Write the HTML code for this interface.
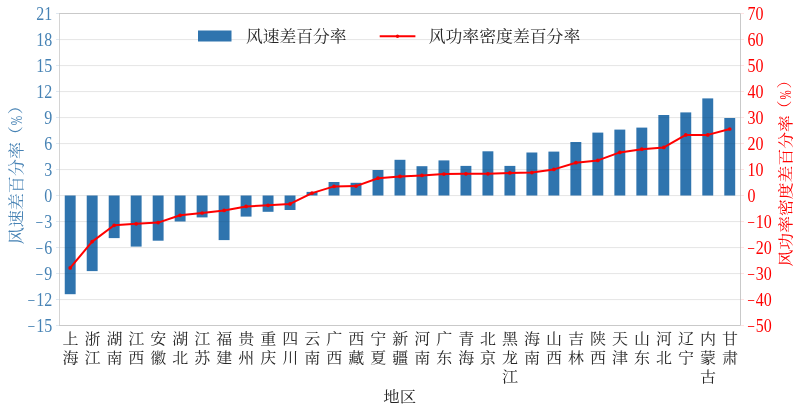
<!DOCTYPE html><html><head><meta charset="utf-8"><title>chart</title><style>html,body{margin:0;padding:0;background:#fff}svg{display:block}text{font-family:"Liberation Serif","Noto Serif CJK SC",serif}</style></head><body>
<svg width="800" height="411" viewBox="0 0 800 411">
<rect width="800" height="411" fill="#fff"/>
<line x1="56.0" x2="59.5" y1="13.50" y2="13.50" stroke="#dfe8f1" stroke-width="1"/>
<line x1="740.5" x2="744.0" y1="13.50" y2="13.50" stroke="#ffe3e3" stroke-width="1"/>
<line x1="59.5" x2="740.5" y1="39.62" y2="39.62" stroke="#000" stroke-opacity="0.05" stroke-width="1"/>
<line x1="56.0" x2="59.5" y1="39.50" y2="39.50" stroke="#dfe8f1" stroke-width="1"/>
<line x1="740.5" x2="744.0" y1="39.50" y2="39.50" stroke="#ffe3e3" stroke-width="1"/>
<line x1="59.5" x2="740.5" y1="65.62" y2="65.62" stroke="#000" stroke-opacity="0.05" stroke-width="1"/>
<line x1="56.0" x2="59.5" y1="65.50" y2="65.50" stroke="#dfe8f1" stroke-width="1"/>
<line x1="740.5" x2="744.0" y1="65.50" y2="65.50" stroke="#ffe3e3" stroke-width="1"/>
<line x1="59.5" x2="740.5" y1="91.62" y2="91.62" stroke="#000" stroke-opacity="0.05" stroke-width="1"/>
<line x1="56.0" x2="59.5" y1="91.50" y2="91.50" stroke="#dfe8f1" stroke-width="1"/>
<line x1="740.5" x2="744.0" y1="91.50" y2="91.50" stroke="#ffe3e3" stroke-width="1"/>
<line x1="59.5" x2="740.5" y1="117.62" y2="117.62" stroke="#000" stroke-opacity="0.05" stroke-width="1"/>
<line x1="56.0" x2="59.5" y1="117.50" y2="117.50" stroke="#dfe8f1" stroke-width="1"/>
<line x1="740.5" x2="744.0" y1="117.50" y2="117.50" stroke="#ffe3e3" stroke-width="1"/>
<line x1="59.5" x2="740.5" y1="143.62" y2="143.62" stroke="#000" stroke-opacity="0.05" stroke-width="1"/>
<line x1="56.0" x2="59.5" y1="143.50" y2="143.50" stroke="#dfe8f1" stroke-width="1"/>
<line x1="740.5" x2="744.0" y1="143.50" y2="143.50" stroke="#ffe3e3" stroke-width="1"/>
<line x1="59.5" x2="740.5" y1="169.62" y2="169.62" stroke="#000" stroke-opacity="0.05" stroke-width="1"/>
<line x1="56.0" x2="59.5" y1="169.50" y2="169.50" stroke="#dfe8f1" stroke-width="1"/>
<line x1="740.5" x2="744.0" y1="169.50" y2="169.50" stroke="#ffe3e3" stroke-width="1"/>
<line x1="59.5" x2="740.5" y1="195.62" y2="195.62" stroke="#000" stroke-opacity="0.05" stroke-width="1"/>
<line x1="56.0" x2="59.5" y1="195.50" y2="195.50" stroke="#dfe8f1" stroke-width="1"/>
<line x1="740.5" x2="744.0" y1="195.50" y2="195.50" stroke="#ffe3e3" stroke-width="1"/>
<line x1="59.5" x2="740.5" y1="221.62" y2="221.62" stroke="#000" stroke-opacity="0.05" stroke-width="1"/>
<line x1="56.0" x2="59.5" y1="221.50" y2="221.50" stroke="#dfe8f1" stroke-width="1"/>
<line x1="740.5" x2="744.0" y1="221.50" y2="221.50" stroke="#ffe3e3" stroke-width="1"/>
<line x1="59.5" x2="740.5" y1="247.62" y2="247.62" stroke="#000" stroke-opacity="0.05" stroke-width="1"/>
<line x1="56.0" x2="59.5" y1="247.50" y2="247.50" stroke="#dfe8f1" stroke-width="1"/>
<line x1="740.5" x2="744.0" y1="247.50" y2="247.50" stroke="#ffe3e3" stroke-width="1"/>
<line x1="59.5" x2="740.5" y1="273.62" y2="273.62" stroke="#000" stroke-opacity="0.05" stroke-width="1"/>
<line x1="56.0" x2="59.5" y1="273.50" y2="273.50" stroke="#dfe8f1" stroke-width="1"/>
<line x1="740.5" x2="744.0" y1="273.50" y2="273.50" stroke="#ffe3e3" stroke-width="1"/>
<line x1="59.5" x2="740.5" y1="299.62" y2="299.62" stroke="#000" stroke-opacity="0.05" stroke-width="1"/>
<line x1="56.0" x2="59.5" y1="299.50" y2="299.50" stroke="#dfe8f1" stroke-width="1"/>
<line x1="740.5" x2="744.0" y1="299.50" y2="299.50" stroke="#ffe3e3" stroke-width="1"/>
<line x1="56.0" x2="59.5" y1="325.50" y2="325.50" stroke="#dfe8f1" stroke-width="1"/>
<line x1="740.5" x2="744.0" y1="325.50" y2="325.50" stroke="#ffe3e3" stroke-width="1"/>
<path d="M59.0 13.5H740.5V325.5H59.0" fill="none" stroke="#c9c9c9" stroke-width="1"/>
<line x1="59.5" x2="59.5" y1="14.0" y2="325.0" stroke="#d4d4d4" stroke-width="1"/>
<rect x="64.75" y="195.50" width="10.90" height="98.70" fill="#2f74ae"/>
<rect x="86.73" y="195.50" width="10.90" height="75.60" fill="#2f74ae"/>
<rect x="108.72" y="195.50" width="10.90" height="42.60" fill="#2f74ae"/>
<rect x="130.71" y="195.50" width="10.90" height="51.10" fill="#2f74ae"/>
<rect x="152.69" y="195.50" width="10.90" height="45.20" fill="#2f74ae"/>
<rect x="174.68" y="195.50" width="10.90" height="26.00" fill="#2f74ae"/>
<rect x="196.66" y="195.50" width="10.90" height="21.90" fill="#2f74ae"/>
<rect x="218.64" y="195.50" width="10.90" height="44.60" fill="#2f74ae"/>
<rect x="240.63" y="195.50" width="10.90" height="21.10" fill="#2f74ae"/>
<rect x="262.62" y="195.50" width="10.90" height="16.30" fill="#2f74ae"/>
<rect x="284.60" y="195.50" width="10.90" height="14.50" fill="#2f74ae"/>
<rect x="306.58" y="191.90" width="10.90" height="3.60" fill="#2f74ae"/>
<rect x="328.57" y="182.00" width="10.90" height="13.50" fill="#2f74ae"/>
<rect x="350.56" y="182.80" width="10.90" height="12.70" fill="#2f74ae"/>
<rect x="372.54" y="170.00" width="10.90" height="25.50" fill="#2f74ae"/>
<rect x="394.52" y="159.80" width="10.90" height="35.70" fill="#2f74ae"/>
<rect x="416.51" y="166.20" width="10.90" height="29.30" fill="#2f74ae"/>
<rect x="438.50" y="160.40" width="10.90" height="35.10" fill="#2f74ae"/>
<rect x="460.48" y="165.90" width="10.90" height="29.60" fill="#2f74ae"/>
<rect x="482.46" y="151.30" width="10.90" height="44.20" fill="#2f74ae"/>
<rect x="504.45" y="165.90" width="10.90" height="29.60" fill="#2f74ae"/>
<rect x="526.43" y="152.50" width="10.90" height="43.00" fill="#2f74ae"/>
<rect x="548.42" y="151.60" width="10.90" height="43.90" fill="#2f74ae"/>
<rect x="570.40" y="142.00" width="10.90" height="53.50" fill="#2f74ae"/>
<rect x="592.39" y="132.60" width="10.90" height="62.90" fill="#2f74ae"/>
<rect x="614.38" y="129.60" width="10.90" height="65.90" fill="#2f74ae"/>
<rect x="636.36" y="127.60" width="10.90" height="67.90" fill="#2f74ae"/>
<rect x="658.35" y="115.00" width="10.90" height="80.50" fill="#2f74ae"/>
<rect x="680.33" y="112.40" width="10.90" height="83.10" fill="#2f74ae"/>
<rect x="702.31" y="98.40" width="10.90" height="97.10" fill="#2f74ae"/>
<rect x="724.30" y="118.00" width="10.90" height="77.50" fill="#2f74ae"/>
<line x1="59.5" x2="740.5" y1="39.62" y2="39.62" stroke="#000" stroke-opacity="0.058" stroke-width="1"/>
<line x1="59.5" x2="740.5" y1="65.62" y2="65.62" stroke="#000" stroke-opacity="0.058" stroke-width="1"/>
<line x1="59.5" x2="740.5" y1="91.62" y2="91.62" stroke="#000" stroke-opacity="0.058" stroke-width="1"/>
<line x1="59.5" x2="740.5" y1="117.62" y2="117.62" stroke="#000" stroke-opacity="0.058" stroke-width="1"/>
<line x1="59.5" x2="740.5" y1="143.62" y2="143.62" stroke="#000" stroke-opacity="0.058" stroke-width="1"/>
<line x1="59.5" x2="740.5" y1="169.62" y2="169.62" stroke="#000" stroke-opacity="0.058" stroke-width="1"/>
<line x1="59.5" x2="740.5" y1="195.62" y2="195.62" stroke="#000" stroke-opacity="0.058" stroke-width="1"/>
<line x1="59.5" x2="740.5" y1="221.62" y2="221.62" stroke="#000" stroke-opacity="0.058" stroke-width="1"/>
<line x1="59.5" x2="740.5" y1="247.62" y2="247.62" stroke="#000" stroke-opacity="0.058" stroke-width="1"/>
<line x1="59.5" x2="740.5" y1="273.62" y2="273.62" stroke="#000" stroke-opacity="0.058" stroke-width="1"/>
<line x1="59.5" x2="740.5" y1="299.62" y2="299.62" stroke="#000" stroke-opacity="0.058" stroke-width="1"/>
<polyline points="70.20,267.90 92.19,241.60 114.17,225.30 136.16,223.80 158.14,222.60 180.12,215.30 202.11,213.00 224.09,210.40 246.08,206.40 268.06,205.30 290.05,203.90 312.03,193.10 334.02,186.40 356.00,186.10 377.99,178.20 399.97,176.40 421.96,175.40 443.94,174.10 465.93,173.80 487.91,173.80 509.90,172.90 531.88,172.60 553.87,169.40 575.86,162.70 597.84,160.40 619.83,152.40 641.81,149.20 663.80,147.40 685.78,134.90 707.76,134.90 729.75,129.00" fill="none" stroke="#ff0000" stroke-width="2" stroke-linejoin="round" stroke-linecap="round"/>
<circle cx="70.20" cy="267.90" r="1.85" fill="#f40000"/>
<circle cx="92.19" cy="241.60" r="1.85" fill="#f40000"/>
<circle cx="114.17" cy="225.30" r="1.85" fill="#f40000"/>
<circle cx="136.16" cy="223.80" r="1.85" fill="#f40000"/>
<circle cx="158.14" cy="222.60" r="1.85" fill="#f40000"/>
<circle cx="180.12" cy="215.30" r="1.85" fill="#f40000"/>
<circle cx="202.11" cy="213.00" r="1.85" fill="#f40000"/>
<circle cx="224.09" cy="210.40" r="1.85" fill="#f40000"/>
<circle cx="246.08" cy="206.40" r="1.85" fill="#f40000"/>
<circle cx="268.06" cy="205.30" r="1.85" fill="#f40000"/>
<circle cx="290.05" cy="203.90" r="1.85" fill="#f40000"/>
<circle cx="312.03" cy="193.10" r="1.85" fill="#f40000"/>
<circle cx="334.02" cy="186.40" r="1.85" fill="#f40000"/>
<circle cx="356.00" cy="186.10" r="1.85" fill="#f40000"/>
<circle cx="377.99" cy="178.20" r="1.85" fill="#f40000"/>
<circle cx="399.97" cy="176.40" r="1.85" fill="#f40000"/>
<circle cx="421.96" cy="175.40" r="1.85" fill="#f40000"/>
<circle cx="443.94" cy="174.10" r="1.85" fill="#f40000"/>
<circle cx="465.93" cy="173.80" r="1.85" fill="#f40000"/>
<circle cx="487.91" cy="173.80" r="1.85" fill="#f40000"/>
<circle cx="509.90" cy="172.90" r="1.85" fill="#f40000"/>
<circle cx="531.88" cy="172.60" r="1.85" fill="#f40000"/>
<circle cx="553.87" cy="169.40" r="1.85" fill="#f40000"/>
<circle cx="575.86" cy="162.70" r="1.85" fill="#f40000"/>
<circle cx="597.84" cy="160.40" r="1.85" fill="#f40000"/>
<circle cx="619.83" cy="152.40" r="1.85" fill="#f40000"/>
<circle cx="641.81" cy="149.20" r="1.85" fill="#f40000"/>
<circle cx="663.80" cy="147.40" r="1.85" fill="#f40000"/>
<circle cx="685.78" cy="134.90" r="1.85" fill="#f40000"/>
<circle cx="707.76" cy="134.90" r="1.85" fill="#f40000"/>
<circle cx="729.75" cy="129.00" r="1.85" fill="#f40000"/>
<text transform="translate(36.19,20.05) scale(0.915,1.08)" font-size="17.5" fill="#4682b4">21</text>
<text transform="translate(36.19,46.05) scale(0.915,1.08)" font-size="17.5" fill="#4682b4">18</text>
<text transform="translate(36.19,72.05) scale(0.915,1.08)" font-size="17.5" fill="#4682b4">15</text>
<text transform="translate(36.19,98.05) scale(0.915,1.08)" font-size="17.5" fill="#4682b4">12</text>
<text transform="translate(44.19,124.05) scale(0.915,1.08)" font-size="17.5" fill="#4682b4">9</text>
<text transform="translate(44.19,150.05) scale(0.915,1.08)" font-size="17.5" fill="#4682b4">6</text>
<text transform="translate(44.19,176.05) scale(0.915,1.08)" font-size="17.5" fill="#4682b4">3</text>
<text transform="translate(44.19,202.05) scale(0.915,1.08)" font-size="17.5" fill="#4682b4">0</text>
<text transform="translate(44.19,228.05) scale(0.915,1.08)" font-size="17.5" fill="#4682b4">3</text>
<text transform="translate(35.59,228.05) scale(0.78,1)" font-size="17.5" fill="#4682b4">−</text>
<text transform="translate(44.19,254.05) scale(0.915,1.08)" font-size="17.5" fill="#4682b4">6</text>
<text transform="translate(35.59,254.05) scale(0.78,1)" font-size="17.5" fill="#4682b4">−</text>
<text transform="translate(44.19,280.05) scale(0.915,1.08)" font-size="17.5" fill="#4682b4">9</text>
<text transform="translate(35.59,280.05) scale(0.78,1)" font-size="17.5" fill="#4682b4">−</text>
<text transform="translate(36.19,306.05) scale(0.915,1.08)" font-size="17.5" fill="#4682b4">12</text>
<text transform="translate(27.59,306.05) scale(0.78,1)" font-size="17.5" fill="#4682b4">−</text>
<text transform="translate(36.19,332.05) scale(0.915,1.08)" font-size="17.5" fill="#4682b4">15</text>
<text transform="translate(27.59,332.05) scale(0.78,1)" font-size="17.5" fill="#4682b4">−</text>
<text transform="translate(747.60,20.05) scale(0.915,1.08)" font-size="17.5" fill="#ff0000">70</text>
<text transform="translate(747.60,46.05) scale(0.915,1.08)" font-size="17.5" fill="#ff0000">60</text>
<text transform="translate(747.60,72.05) scale(0.915,1.08)" font-size="17.5" fill="#ff0000">50</text>
<text transform="translate(747.60,98.05) scale(0.915,1.08)" font-size="17.5" fill="#ff0000">40</text>
<text transform="translate(747.60,124.05) scale(0.915,1.08)" font-size="17.5" fill="#ff0000">30</text>
<text transform="translate(747.60,150.05) scale(0.915,1.08)" font-size="17.5" fill="#ff0000">20</text>
<text transform="translate(747.60,176.05) scale(0.915,1.08)" font-size="17.5" fill="#ff0000">10</text>
<text transform="translate(747.60,202.05) scale(0.915,1.08)" font-size="17.5" fill="#ff0000">0</text>
<text transform="translate(755.80,228.05) scale(0.915,1.08)" font-size="17.5" fill="#ff0000">10</text>
<text transform="translate(747.20,228.05) scale(0.78,1)" font-size="17.5" fill="#ff0000">−</text>
<text transform="translate(755.80,254.05) scale(0.915,1.08)" font-size="17.5" fill="#ff0000">20</text>
<text transform="translate(747.20,254.05) scale(0.78,1)" font-size="17.5" fill="#ff0000">−</text>
<text transform="translate(755.80,280.05) scale(0.915,1.08)" font-size="17.5" fill="#ff0000">30</text>
<text transform="translate(747.20,280.05) scale(0.78,1)" font-size="17.5" fill="#ff0000">−</text>
<text transform="translate(755.80,306.05) scale(0.915,1.08)" font-size="17.5" fill="#ff0000">40</text>
<text transform="translate(747.20,306.05) scale(0.78,1)" font-size="17.5" fill="#ff0000">−</text>
<text transform="translate(755.80,332.05) scale(0.915,1.08)" font-size="17.5" fill="#ff0000">50</text>
<text transform="translate(747.20,332.05) scale(0.78,1)" font-size="17.5" fill="#ff0000">−</text>
<text transform="translate(70.40,344.4) scale(1,0.93)" font-size="16" fill="#262626" text-anchor="middle">上</text>
<text transform="translate(70.40,362.7) scale(1,0.93)" font-size="16" fill="#262626" text-anchor="middle">海</text>
<text transform="translate(92.39,344.4) scale(1,0.93)" font-size="16" fill="#262626" text-anchor="middle">浙</text>
<text transform="translate(92.39,362.7) scale(1,0.93)" font-size="16" fill="#262626" text-anchor="middle">江</text>
<text transform="translate(114.37,344.4) scale(1,0.93)" font-size="16" fill="#262626" text-anchor="middle">湖</text>
<text transform="translate(114.37,362.7) scale(1,0.93)" font-size="16" fill="#262626" text-anchor="middle">南</text>
<text transform="translate(136.35,344.4) scale(1,0.93)" font-size="16" fill="#262626" text-anchor="middle">江</text>
<text transform="translate(136.35,362.7) scale(1,0.93)" font-size="16" fill="#262626" text-anchor="middle">西</text>
<text transform="translate(158.34,344.4) scale(1,0.93)" font-size="16" fill="#262626" text-anchor="middle">安</text>
<text transform="translate(158.34,362.7) scale(1,0.93)" font-size="16" fill="#262626" text-anchor="middle">徽</text>
<text transform="translate(180.32,344.4) scale(1,0.93)" font-size="16" fill="#262626" text-anchor="middle">湖</text>
<text transform="translate(180.32,362.7) scale(1,0.93)" font-size="16" fill="#262626" text-anchor="middle">北</text>
<text transform="translate(202.31,344.4) scale(1,0.93)" font-size="16" fill="#262626" text-anchor="middle">江</text>
<text transform="translate(202.31,362.7) scale(1,0.93)" font-size="16" fill="#262626" text-anchor="middle">苏</text>
<text transform="translate(224.29,344.4) scale(1,0.93)" font-size="16" fill="#262626" text-anchor="middle">福</text>
<text transform="translate(224.29,362.7) scale(1,0.93)" font-size="16" fill="#262626" text-anchor="middle">建</text>
<text transform="translate(246.28,344.4) scale(1,0.93)" font-size="16" fill="#262626" text-anchor="middle">贵</text>
<text transform="translate(246.28,362.7) scale(1,0.93)" font-size="16" fill="#262626" text-anchor="middle">州</text>
<text transform="translate(268.26,344.4) scale(1,0.93)" font-size="16" fill="#262626" text-anchor="middle">重</text>
<text transform="translate(268.26,362.7) scale(1,0.93)" font-size="16" fill="#262626" text-anchor="middle">庆</text>
<text transform="translate(290.25,344.4) scale(1,0.93)" font-size="16" fill="#262626" text-anchor="middle">四</text>
<text transform="translate(290.25,362.7) scale(1,0.93)" font-size="16" fill="#262626" text-anchor="middle">川</text>
<text transform="translate(312.23,344.4) scale(1,0.93)" font-size="16" fill="#262626" text-anchor="middle">云</text>
<text transform="translate(312.23,362.7) scale(1,0.93)" font-size="16" fill="#262626" text-anchor="middle">南</text>
<text transform="translate(334.22,344.4) scale(1,0.93)" font-size="16" fill="#262626" text-anchor="middle">广</text>
<text transform="translate(334.22,362.7) scale(1,0.93)" font-size="16" fill="#262626" text-anchor="middle">西</text>
<text transform="translate(356.20,344.4) scale(1,0.93)" font-size="16" fill="#262626" text-anchor="middle">西</text>
<text transform="translate(356.20,362.7) scale(1,0.93)" font-size="16" fill="#262626" text-anchor="middle">藏</text>
<text transform="translate(378.19,344.4) scale(1,0.93)" font-size="16" fill="#262626" text-anchor="middle">宁</text>
<text transform="translate(378.19,362.7) scale(1,0.93)" font-size="16" fill="#262626" text-anchor="middle">夏</text>
<text transform="translate(400.17,344.4) scale(1,0.93)" font-size="16" fill="#262626" text-anchor="middle">新</text>
<text transform="translate(400.17,362.7) scale(1,0.93)" font-size="16" fill="#262626" text-anchor="middle">疆</text>
<text transform="translate(422.16,344.4) scale(1,0.93)" font-size="16" fill="#262626" text-anchor="middle">河</text>
<text transform="translate(422.16,362.7) scale(1,0.93)" font-size="16" fill="#262626" text-anchor="middle">南</text>
<text transform="translate(444.14,344.4) scale(1,0.93)" font-size="16" fill="#262626" text-anchor="middle">广</text>
<text transform="translate(444.14,362.7) scale(1,0.93)" font-size="16" fill="#262626" text-anchor="middle">东</text>
<text transform="translate(466.13,344.4) scale(1,0.93)" font-size="16" fill="#262626" text-anchor="middle">青</text>
<text transform="translate(466.13,362.7) scale(1,0.93)" font-size="16" fill="#262626" text-anchor="middle">海</text>
<text transform="translate(488.11,344.4) scale(1,0.93)" font-size="16" fill="#262626" text-anchor="middle">北</text>
<text transform="translate(488.11,362.7) scale(1,0.93)" font-size="16" fill="#262626" text-anchor="middle">京</text>
<text transform="translate(510.10,344.4) scale(1,0.93)" font-size="16" fill="#262626" text-anchor="middle">黑</text>
<text transform="translate(510.10,362.7) scale(1,0.93)" font-size="16" fill="#262626" text-anchor="middle">龙</text>
<text transform="translate(510.10,381.6) scale(1,0.93)" font-size="16" fill="#262626" text-anchor="middle">江</text>
<text transform="translate(532.09,344.4) scale(1,0.93)" font-size="16" fill="#262626" text-anchor="middle">海</text>
<text transform="translate(532.09,362.7) scale(1,0.93)" font-size="16" fill="#262626" text-anchor="middle">南</text>
<text transform="translate(554.07,344.4) scale(1,0.93)" font-size="16" fill="#262626" text-anchor="middle">山</text>
<text transform="translate(554.07,362.7) scale(1,0.93)" font-size="16" fill="#262626" text-anchor="middle">西</text>
<text transform="translate(576.06,344.4) scale(1,0.93)" font-size="16" fill="#262626" text-anchor="middle">吉</text>
<text transform="translate(576.06,362.7) scale(1,0.93)" font-size="16" fill="#262626" text-anchor="middle">林</text>
<text transform="translate(598.04,344.4) scale(1,0.93)" font-size="16" fill="#262626" text-anchor="middle">陕</text>
<text transform="translate(598.04,362.7) scale(1,0.93)" font-size="16" fill="#262626" text-anchor="middle">西</text>
<text transform="translate(620.03,344.4) scale(1,0.93)" font-size="16" fill="#262626" text-anchor="middle">天</text>
<text transform="translate(620.03,362.7) scale(1,0.93)" font-size="16" fill="#262626" text-anchor="middle">津</text>
<text transform="translate(642.01,344.4) scale(1,0.93)" font-size="16" fill="#262626" text-anchor="middle">山</text>
<text transform="translate(642.01,362.7) scale(1,0.93)" font-size="16" fill="#262626" text-anchor="middle">东</text>
<text transform="translate(664.00,344.4) scale(1,0.93)" font-size="16" fill="#262626" text-anchor="middle">河</text>
<text transform="translate(664.00,362.7) scale(1,0.93)" font-size="16" fill="#262626" text-anchor="middle">北</text>
<text transform="translate(685.98,344.4) scale(1,0.93)" font-size="16" fill="#262626" text-anchor="middle">辽</text>
<text transform="translate(685.98,362.7) scale(1,0.93)" font-size="16" fill="#262626" text-anchor="middle">宁</text>
<text transform="translate(707.97,344.4) scale(1,0.93)" font-size="16" fill="#262626" text-anchor="middle">内</text>
<text transform="translate(707.97,362.7) scale(1,0.93)" font-size="16" fill="#262626" text-anchor="middle">蒙</text>
<text transform="translate(707.97,381.6) scale(1,0.93)" font-size="16" fill="#262626" text-anchor="middle">古</text>
<text transform="translate(729.95,344.4) scale(1,0.93)" font-size="16" fill="#262626" text-anchor="middle">甘</text>
<text transform="translate(729.95,362.7) scale(1,0.93)" font-size="16" fill="#262626" text-anchor="middle">肃</text>
<text transform="translate(399.7,401.7) scale(1,0.92)" font-size="16.4" fill="#262626" text-anchor="middle">地区</text>
<g transform="translate(21.80,244.30) rotate(-90) scale(1,0.9)" font-size="17.06" fill="#4682b4">
<text x="0" y="0">风速差百分率</text>
<text x="101.11" y="-1">（</text>
<text transform="translate(118.99,0) scale(0.66,1.15)">%</text>
<text x="130.01" y="-1">）</text>
</g>
<g transform="translate(790.80,266.50) rotate(-90) scale(1,0.9)" font-size="16.82" fill="#ff0000">
<text x="0" y="0">风功率密度差百分率</text>
<text x="149.27" y="-1">（</text>
<text transform="translate(167.00,0) scale(0.66,1.15)">%</text>
<text x="178.02" y="-1">）</text>
</g>
<rect x="198" y="30.5" width="33.5" height="11" fill="#2f74ae"/>
<text transform="translate(246,42.2) scale(1,0.95)" font-size="16.75" fill="#262626">风速差百分率</text>
<line x1="379.7" x2="415.4" y1="36.3" y2="36.3" stroke="#ff0000" stroke-width="2"/>
<circle cx="397.5" cy="36.3" r="1.7" fill="#f60000"/>
<text transform="translate(428.7,42.2) scale(1,0.95)" font-size="16.85" fill="#262626">风功率密度差百分率</text>
</svg></body></html>
